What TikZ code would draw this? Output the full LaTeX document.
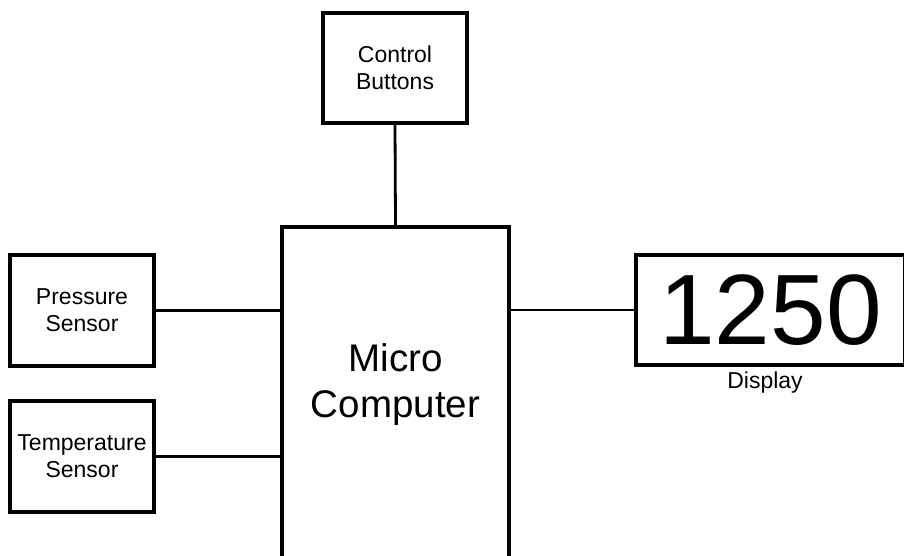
\documentclass[tikz,border=0pt]{standalone}
\usepackage{fontspec}
\setmainfont{Liberation Sans}
\begin{document}
\begin{tikzpicture}[x=1pt,y=-1pt,
  box/.style={draw=black,line width=3.1pt,rectangle,inner sep=0pt,align=center,
    font=\fontsize{23}{27}\selectfont},
  wire/.style={draw=black,line width=2.8pt}]
\clip (0,0) rectangle (904,556);
\fill[white] (0,0) rectangle (904,556);
\node[box,minimum width=144pt,minimum height=110pt] (ctrl) at (395,68) {Control\\Buttons};
\node[box,minimum width=227pt,minimum height=373pt,
  label={[yshift=29pt,align=center,font=\fontsize{38.5}{46}\selectfont]center:Micro\\Computer}] (mc) at (395.5,413.5) {};
\node[box,minimum width=144pt,minimum height=111pt] (press) at (82,310.5) {Pressure\\Sensor};
\node[box,minimum width=144pt,minimum height=111pt] (temp) at (82,456.5) {Temperature\\Sensor};
\node[box,minimum width=269pt,minimum height=110pt,font=\fontsize{100}{100}\selectfont] (disp) at (770.5,310) {1250};
\node[font=\fontsize{23}{27}\selectfont,inner sep=0pt] (displbl) at (765,383) {Display};
\draw[wire] (ctrl.south) -- (mc.north);
\draw[wire] (press.east) -- (press.east -| mc.west);
\draw[wire] (temp.east) -- (temp.east -| mc.west);
\draw[wire] (disp.west -| mc.east) -- (disp.west);
\end{tikzpicture}
\end{document}
